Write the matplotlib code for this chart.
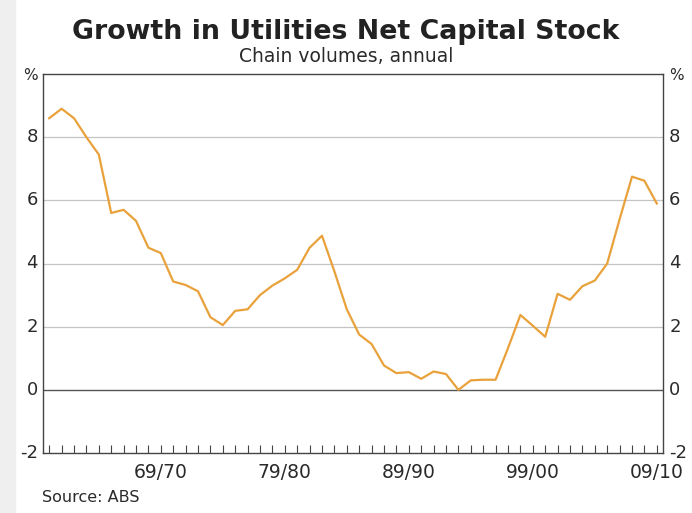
import numpy as np
import matplotlib.pyplot as plt
from matplotlib.patches import Rectangle

plt.rcParams['font.family'] = ['DejaVu Sans']

# annual growth, 1960/61 to 2009/10
years = [f"{y % 100:02d}/{(y + 1) % 100:02d}" for y in range(1960, 2010)]
growth = [8.6, 8.9, 8.6, 8.0, 7.45, 5.6, 5.7, 5.35, 4.5, 4.33,
          3.43, 3.32, 3.12, 2.3, 2.05, 2.5, 2.55, 3.0, 3.3, 3.53,
          3.8, 4.5, 4.88, 3.75, 2.55, 1.75, 1.45, 0.77, 0.53, 0.56,
          0.35, 0.58, 0.5, 0.0, 0.3, 0.32, 0.32, 1.32, 2.37, 2.03,
          1.68, 3.04, 2.85, 3.28, 3.46, 4.0, 5.4, 6.75, 6.62, 5.9]
tick_labels = ["69/70", "79/80", "89/90", "99/00", "09/10"]
y_ticks = [-2, 0, 2, 4, 6, 8]

fig = plt.figure(figsize=(6.92, 5.13), dpi=100)
# faint grey strip down the left edge of the screenshot
fig.patches.append(Rectangle((0, 0), 15 / 692, 1, transform=fig.transFigure,
                             color='#efefef', zorder=0))

ax = fig.add_axes([43 / 692, 60 / 513, 620 / 692, 379 / 513])
x = np.arange(len(years))
ax.plot(x, growth, color='#E9A23B', lw=1.6, zorder=3)

ax.set_xlim(-0.5, len(years) - 0.5)
ax.set_ylim(-2, 10)

for v in [2, 4, 6, 8]:
    ax.axhline(v, color='#c4c4c4', lw=0.9, zorder=1)
ax.axhline(0, color='#555555', lw=1.0, zorder=2)

for s in ax.spines.values():
    s.set_color('#444444')
    s.set_linewidth(1.0)

ax.set_xticks(x)
ax.set_xticklabels([])
ax.tick_params(axis='x', direction='in', length=6, width=0.8, color='#444444')
ax.set_yticks([])

lab_pos = [years.index(t) for t in tick_labels]
for p, t in zip(lab_pos, tick_labels):
    ax.text(p, -2.62, t, ha='center', va='center', fontsize=13.5,
            color='#2a2a2a')

for v in y_ticks:
    ax.text(-0.5 - 0.4, v, str(v), ha='right', va='center', fontsize=13,
            color='#2a2a2a')
    ax.text(len(years) - 0.5 + 0.5, v, str(v), ha='left', va='center',
            fontsize=13, color='#2a2a2a')
ax.text(-0.5 - 0.4, 9.95, '%', ha='right', va='center', fontsize=11,
        color='#2a2a2a')
ax.text(len(years) - 0.5 + 0.5, 9.95, '%', ha='left', va='center',
        fontsize=11, color='#2a2a2a')

fig.text(0.5, 1 - 32 / 513, 'Growth in Utilities Net Capital Stock',
         ha='center', va='center', fontsize=19.3, fontweight='bold',
         color='#222222')
fig.text(0.5, 1 - 57 / 513, 'Chain volumes, annual', ha='center',
         va='center', fontsize=13.5, color='#2a2a2a')
fig.text(42 / 692, 1 - 497 / 513, 'Source: ABS', ha='left', va='center',
         fontsize=11.5, color='#2a2a2a')

plt.savefig('out.png', dpi=100)
